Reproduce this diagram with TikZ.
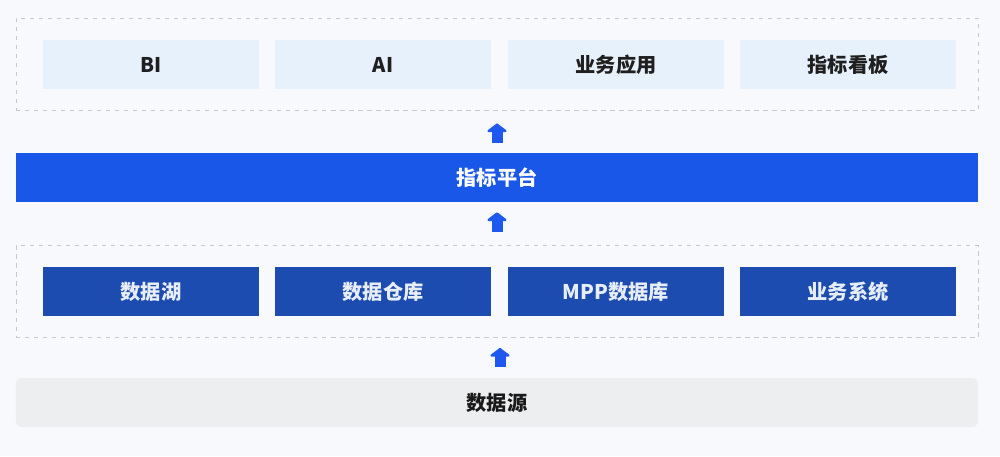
\documentclass[tikz,border=0pt]{standalone}
\usepackage{fontspec}
\setmainfont{Noto Sans CJK SC}
\usetikzlibrary{arrows.meta}
\definecolor{bgcol}{HTML}{F7F9FC}
\definecolor{framecol}{HTML}{C3C9D2}
\definecolor{appcol}{HTML}{E6F1FC}
\definecolor{platcol}{HTML}{1957E8}
\definecolor{storecol}{HTML}{1C4CB0}
\definecolor{storetext}{HTML}{E8EEF9}
\definecolor{srccol}{HTML}{EDEEF0}
\definecolor{arrowcol}{HTML}{1F58EE}
\begin{document}
\begin{tikzpicture}[x=0.2mm,y=-0.2mm,
		frame/.style={draw=framecol,line width=0.5pt,dash pattern=on 0.9mm off 0.9mm,minimum width=192.4mm,minimum height=18.4mm},
		appbox/.style={fill=appcol,minimum width=43.2mm,minimum height=9.8mm,text=black!88,font=\fontsize{11.5}{14}\selectfont\bfseries},
		storebox/.style={fill=storecol,minimum width=43.2mm,minimum height=9.8mm,text=storetext,font=\fontsize{11.5}{14}\selectfont\bfseries},
		wide/.style={minimum width=192.4mm,minimum height=9.8mm,font=\fontsize{11.5}{14}\selectfont\bfseries},
		uparrow/.style={draw=arrowcol,line width=2.2mm,-{Triangle[width=4.6mm,length=1.8mm,round]}}]
		\fill[bgcol] (0,0) rectangle (1000,456);
		\useasboundingbox (0,0) rectangle (1000,456);
		\node[frame] (topframe) at (497,64) {};
		\node[appbox] (bi) at (151,64.5) {BI};
		\node[appbox] (ai) at (383,64.5) {AI};
		\node[appbox] (app) at (616,64.5) {业务应用};
		\node[appbox] (board) at (848,64.5) {指标看板};
		\node[wide,fill=platcol,text=white] (platform) at (497,177.5) {指标平台};
		\node[frame] (midframe) at (497,291.5) {};
		\node[storebox] (lake) at (151,291.5) {数据湖};
		\node[storebox] (warehouse) at (383,291.5) {数据仓库};
		\node[storebox] (mpp) at (616,291.5) {MPP数据库};
		\node[storebox] (biz) at (848,291.5) {业务系统};
		\node[wide,fill=srccol,rounded corners=1.2mm,text=black!90] (source) at (497,402.5) {数据源};
		\draw[uparrow,shorten <=2mm,shorten >=2.6mm] (platform.north) -- (topframe.south);
		\draw[uparrow,shorten <=2.6mm,shorten >=2mm] (midframe.north) -- (platform.south);
		\draw[uparrow,shorten <=2.2mm,shorten >=2mm] ([xshift=0.6mm]source.north) -- ([xshift=0.6mm]midframe.south);
\end{tikzpicture}
\end{document}
